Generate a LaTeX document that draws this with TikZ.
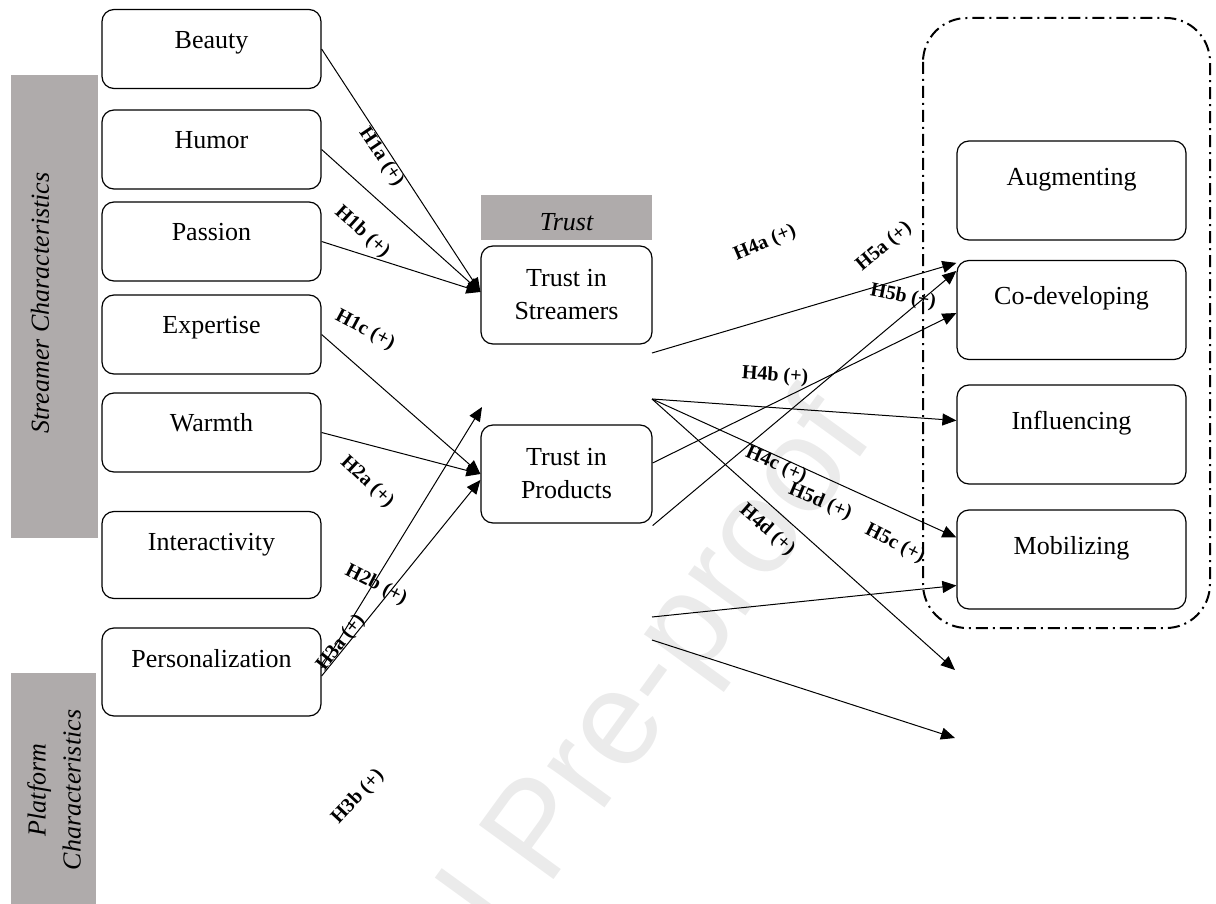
\documentclass[tikz,border=0pt]{standalone}
\usepackage{fontspec}
\setmainfont{Liberation Serif}
\newfontfamily\wmfont{Liberation Sans}
\usetikzlibrary{arrows.meta}
\definecolor{barGray}{RGB}{175,171,171}
\tikzset{
  charbox/.style={draw, line width=0.6pt, rounded corners=6pt, inner sep=0pt,
    font=\fontsize{13}{15.5}\selectfont, text height=9pt, text depth=9.9pt,
    minimum width=109.5pt, minimum height=39.5pt},
  trustbox/.style={draw, line width=0.6pt, rounded corners=6pt, inner sep=0pt,
    align=center, font=\fontsize{13}{16.5}\selectfont,
    minimum width=85.5pt, minimum height=49pt},
  modebox/.style={draw, line width=0.6pt, rounded corners=6pt, inner sep=0pt,
    font=\fontsize{13}{15.5}\selectfont, text height=9pt, text depth=14.4pt,
    minimum width=114.5pt, minimum height=49.5pt},
  hyp/.style={inner sep=0pt, font=\fontsize{10}{12}\selectfont\bfseries},
  bartext/.style={rotate=90, align=center, font=\fontsize{13}{17.5}\selectfont\itshape},
  arr/.style={line width=0.5pt, -{Triangle[length=7pt,width=6pt]}}
}

\begin{document}
\begin{tikzpicture}[x=0.5pt, y=-0.5pt]
  %%%%% START %%%%%
  \useasboundingbox (0,0) rectangle (1216,904);
  \begin{scope}
    \clip (0,0) rectangle (1216,904);
    \node[anchor=east, rotate=54, text=black!8, font=\fontsize{67}{80}\wmfont] (wmark) at (852,410) {Journal Pre-proof};
  \end{scope}

  % grey bars
  \fill[barGray] (11,75) rectangle (98,538);
  \node[bartext] (streamer) at (40,303) {Streamer Characteristics};
  \fill[barGray] (11,673) rectangle (96,904);
  \node[bartext] (platform) at (54,790) {Platform\\Characteristics};
  \fill[barGray] (481,195) rectangle (652,240);
  \node[font=\fontsize{13}{15.5}\selectfont\itshape] (trusthead) at (566.5,222) {Trust};

  % characteristics
  \node[charbox] (beauty) at (211.5,49) {Beauty};
  \node[charbox] (humor) at (211.5,149.5) {Humor};
  \node[charbox] (passion) at (211.5,241.5) {Passion};
  \node[charbox] (expertise) at (211.5,334.5) {Expertise};
  \node[charbox] (warmth) at (211.5,432.5) {Warmth};
  \node[charbox, minimum height=43.5pt, text depth=13.9pt] (interact) at (211.5,555) {Interactivity};
  \node[charbox, minimum height=44pt, text depth=13.9pt] (personal) at (211.5,672) {Personalization};

  % trust
  \node[trustbox] (tstream) at (566.5,295) {Trust in\\Streamers};
  \node[trustbox] (tprod) at (566.5,474) {Trust in\\Products};

  % engagement
  \draw[line width=1pt, rounded corners=22pt, dash pattern=on 6pt off 2.5pt on 1pt off 2.5pt] (923,18) rectangle (1210,628);
  \node[modebox] (augment) at (1071.5,190.5) {Augmenting};
  \node[modebox] (codev) at (1071.5,310) {Co-developing};
  \node[modebox] (influ) at (1071.5,434.5) {Influencing};
  \node[modebox] (mobil) at (1071.5,559.5) {Mobilizing};

  \coordinate (gapend) at (482,407);
  \coordinate (sA) at (652,353);
  \coordinate (sB) at (652,399);
  \coordinate (pC) at (652,617);
  \coordinate (pD) at (652,640);
  \coordinate (endA) at (955,670);
  \coordinate (endB) at (955,738);

  % left arrows
  \draw[arr] (beauty.east) -- ([yshift=1.5pt]tstream.west);
  \draw[arr] (humor.east) -- ([yshift=1.5pt]tstream.west);
  \draw[arr] (passion.east) -- ([yshift=1.5pt]tstream.west);
  \draw[arr] (expertise.east) -- (tprod.west);
  \draw[arr] (warmth.east) -- (tprod.west);
  \draw[arr] ([yshift=2pt]personal.east) -- (gapend);
  \draw[arr] ([yshift=-2pt]personal.east) -- ([yshift=-3pt]tprod.west);

  % right arrows
  \draw[arr] (sA) -- ([yshift=-1.5pt]codev.north west);
  \draw[arr] ([yshift=5.5pt]tprod.east) -- ([yshift=-1.5pt]codev.west);
  \draw[arr] ([yshift=-1pt]tprod.south east) -- ([yshift=-5.5pt]codev.north west);
  \draw[arr] (sB) -- ([yshift=7pt]influ.west);
  \draw[arr] (sB) -- ([yshift=11pt]mobil.west);
  \draw[arr] (sB) -- (endA);
  \draw[arr] (pC) -- ([yshift=-13pt]mobil.west);
  \draw[arr] (pD) -- (endB);

  % hypotheses
  \node[hyp, rotate=-56] (h1a) at (381,157) {H1a (+)};
  \node[hyp, rotate=-42] (h1b) at (362,232) {H1b (+)};
  \node[hyp, rotate=-28] (h1c) at (365,330) {H1c (+)};
  \node[hyp, rotate=-43] (h2a) at (367,482) {H2a (+)};
  \node[hyp, rotate=-27] (h2b) at (376,585) {H2b (+)};
  \node[hyp, rotate=52] (h3a) at (341,643) {H3a (+)};
  \node[hyp, rotate=47] (h3b) at (358,797) {H3b (+)};
  \node[hyp, rotate=23] (h4a) at (765,243) {H4a (+)};
  \node[hyp, rotate=40] (h5a) at (884,247) {H5a (+)};
  \node[hyp, rotate=-11] (h5b) at (903,297) {H5b (+)};
  \node[hyp, rotate=-4] (h4b) at (775,376) {H4b (+)};
  \node[hyp, rotate=-24] (h4c) at (776,465) {H4c (+)};
  \node[hyp, rotate=-23] (h5d) at (820,502) {H5d (+)};
  \node[hyp, rotate=-41] (h4d) at (767,530) {H4d (+)};
  \node[hyp, rotate=-27] (h5c) at (895,544) {H5c (+)};
  %%%%% END %%%%%
\end{tikzpicture}
\end{document}
